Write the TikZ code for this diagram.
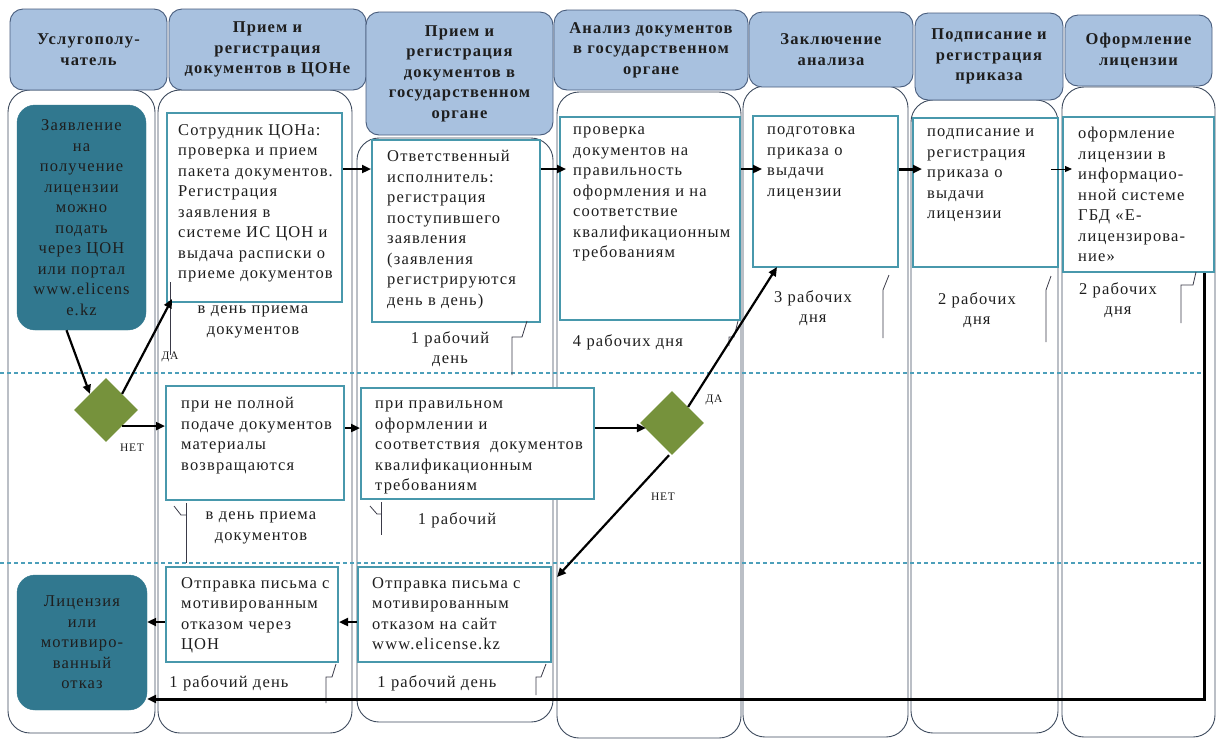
\documentclass[tikz,border=0pt]{standalone}
\usepackage{fontspec}
\setmainfont{Liberation Serif}[LetterSpace=7]
\usetikzlibrary{shapes.geometric,arrows.meta,fit}
\definecolor{hdrfill}{HTML}{A8C1DF}
\definecolor{hdrdraw}{HTML}{485C7C}
\definecolor{lanedraw}{HTML}{3E4B5E}
\definecolor{tealfill}{HTML}{31788F}
\definecolor{boxdraw}{HTML}{4898AC}
\definecolor{olivefill}{HTML}{76923C}
\definecolor{sepcol}{HTML}{4C9FBA}
\definecolor{calldraw}{HTML}{3A3A48}
\definecolor{ink}{HTML}{1E1E1E}
\newcommand\bodyfnt{\fontsize{16.5}{20.5}\selectfont}
\newcommand\hdrfnt{\fontsize{16.5}{20.5}\selectfont\bfseries}
\newcommand\ynfnt{\fontsize{11.5}{13}\selectfont}
\begin{document}
\begin{tikzpicture}[x=1pt,y=-1pt,
  lanebox/.style={draw=lanedraw, line width=0.9pt, fill=white, rounded corners=22pt, inner sep=0pt},
  hdr/.style={draw=hdrdraw, line width=0.9pt, fill=hdrfill, rounded corners=13pt, inner sep=0pt,
              font=\hdrfnt, align=center, text=ink},
  stepbox/.style={draw=boxdraw, line width=2pt, fill=white, inner sep=0pt},
  tealbox/.style={fill=tealfill, draw=tealfill, rounded corners=18pt, inner sep=0pt,
              font=\bodyfnt, align=center, text=ink},
  btext/.style={font=\bodyfnt, align=left, inner sep=0pt, anchor=north west, text=ink},
  ctext/.style={font=\bodyfnt, align=center, inner sep=0pt, text=ink},
  dec/.style={diamond, fill=olivefill, minimum width=64pt, minimum height=64pt, inner sep=0pt, aspect=1},
  conn/.style={line width=2.2pt, draw=black, -{Triangle[length=9pt,width=8pt]}},
  thinconn/.style={line width=1pt, draw=black, -{Triangle[length=7pt,width=6pt]}},
  callout/.style={draw=calldraw, line width=0.8pt},
  sepline/.style={draw=sepcol, line width=1.1pt, dash pattern=on 4pt off 3pt},
  yn/.style={font=\ynfnt, inner sep=0pt, text=ink}
]
\useasboundingbox (0,0) rectangle (1217,740);

% lanes
\node[lanebox, fit={(8,90) (155,733)}] (L1) {};
\node[lanebox, fit={(158,90) (352,733)}] (L2) {};
\node[lanebox, fit={(357,138) (553,722)}] (L3) {};
\node[lanebox, fit={(557,92) (741,738)}] (L4) {};
\node[lanebox, fit={(743,86) (908,737)}] (L5) {};
\node[lanebox, fit={(911,100) (1058,733)}] (L6) {};
\node[lanebox, fit={(1062,87) (1215,737)}] (L7) {};

% separators
\coordinate (s1a) at (0,373); \coordinate (s1b) at (1203,373);
\coordinate (s2a) at (0,563); \coordinate (s2b) at (1203,563);
\draw[sepline] (s1a) -- (s1b);
\draw[sepline] (s2a) -- (s2b);

% headers
\node[hdr, minimum width=157pt, minimum height=81pt] (H1) at (88.5,49.5) {Услугополу-\\чатель};
\node[hdr, minimum width=197pt, minimum height=81pt] (H2) at (267.5,49.5) {Прием и\\регистрация\\документов в ЦОНе};
\node[hdr, minimum width=187pt, minimum height=123pt] (H3) at (459.5,73.5) {Прием и\\регистрация\\документов в\\государственном\\органе};
\node[hdr, minimum width=194pt, minimum height=80pt] (H4) at (651,50) {Анализ документов\\в государственном\\органе};
\node[hdr, minimum width=164pt, minimum height=75pt] (H5) at (831,49.5) {Заключение\\анализа};
\node[hdr, minimum width=148pt, minimum height=87pt] (H6) at (989,56.5) {Подписание и\\регистрация\\приказа};
\node[hdr, minimum width=147pt, minimum height=71pt] (H7) at (1138.5,50.5) {Оформление\\лицензии};

% start / end boxes
\node[tealbox, minimum width=129pt, minimum height=225pt] (Bs) at (81.5,217.5)
  {Заявление\\на\\получение\\лицензии\\можно\\подать\\через ЦОН\\или портал\\www.elicens\\e.kz};
\node[tealbox, minimum width=130pt, minimum height=135pt] (Be) at (82,642.5)
  {Лицензия\\или\\мотивиро-\\ванный\\отказ};

% step boxes
\node[stepbox, fit={(167,113) (342,302)}] (B1) {};
\node[stepbox, fit={(372,140) (540,322)}] (B2) {};
\node[stepbox, fit={(560,117) (740,320)}] (B3) {};
\node[stepbox, fit={(753,116) (898,267)}] (B4) {};
\node[stepbox, fit={(913,118) (1058,267)}] (B5) {};
\node[stepbox, fit={(1063,117) (1214,272)}] (B6) {};
\node[stepbox, fit={(166,386) (344,500)}] (B7) {};
\node[stepbox, fit={(361,388) (594,499)}] (B8) {};
\node[stepbox, fit={(166,567) (338,662)}] (B9) {};
\node[stepbox, fit={(358,567) (551,662)}] (B10) {};

\node[btext] (B1t) at (178,124) {Сотрудник ЦОНа:\\проверка и прием\\пакета документов.\\Регистрация\\заявления в\\системе ИС ЦОН и\\выдача расписки о\\приеме документов};
\node[btext] (B2t) at (387,150) {Ответственный\\исполнитель:\\регистрация\\поступившего\\заявления\\(заявления\\регистрируются\\день в день)};
\node[btext] (B3t) at (573,127) {проверка\\документов на\\правильность\\оформления и на\\соответствие\\квалификационным\\требованиям};
\node[btext] (B4t) at (767,127) {подготовка\\приказа о\\выдачи\\лицензии};
\node[btext] (B5t) at (927,129) {подписание и\\регистрация\\приказа о\\выдачи\\лицензии};
\node[btext] (B6t) at (1078,127) {оформление\\лицензии в\\информацио-\\нной системе\\ГБД «Е-\\лицензирова-\\ние»};
\node[btext] (B7t) at (181,397) {при не полной\\подаче документов\\материалы\\возвращаются};
\node[btext] (B8t) at (375,401) {при правильном\\оформлении и\\соответствия~ документов\\квалификационным\\требованиям};
\node[btext] (B9t) at (181,577) {Отправка письма с\\мотивированным\\отказом через\\ЦОН};
\node[btext] (B10t) at (372,577) {Отправка письма с\\мотивированным\\отказом на сайт\\www.elicense.kz};

% decisions
\node[dec] (D1) at (106,410) {};
\node[dec] (D2) at (672,423) {};

% duration labels
\node[ctext] (T1) at (253,322) {в день приема\\документов};
\node[ctext] (T2) at (450,349) {1 рабочий\\день};
\node[ctext] (T3) at (628,342) {4 рабочих дня};
\node[ctext] (T4) at (813,308) {3 рабочих\\дня};
\node[ctext] (T5) at (977,310) {2 рабочих\\дня};
\node[ctext] (T6) at (1118,300) {2 рабочих\\дня};
\node[ctext] (T7) at (261,528) {в день приема\\документов};
\node[ctext] (T8) at (457,520) {1 рабочий};
\node[ctext] (T9) at (229,683) {1 рабочий день};
\node[ctext] (T10) at (437,683) {1 рабочий день};

% yes/no
\node[yn] (y1) at (170,357) {ДА};
\node[yn] (y2) at (714,400) {ДА};
\node[yn] (n1) at (132,448) {НЕТ};
\node[yn] (n2) at (663,497) {НЕТ};

% callout leaders
\draw[callout] (170,355) -- (170,282);
\draw[callout] (512,375) -- (512,337) -- (522,337) -- (527,321);
\draw[callout] (729,346) -- (729,337) -- (734,337) -- (738,321);
\draw[callout] (883,338) -- (883,290) -- (889,275);
\draw[callout] (1046,342) -- (1046,290) -- (1051,276);
\draw[callout] (1181,323) -- (1181,285) -- (1193,285) -- (1196,272);
\draw[callout] (174,506) -- (181,515) -- (186,515);
\draw[callout] (186,503) -- (186,563);
\draw[callout] (370,506) -- (377,514) -- (381,514);
\draw[callout] (381,502) -- (381,535);
\draw[callout] (326,703) -- (326,677) -- (332,677) -- (336,664);
\draw[callout] (536,695) -- (536,677) -- (541,677) -- (546,664);

% connectors
\coordinate (row1) at (0,169);
\coordinate (row2) at (0,428);
\coordinate (row3) at (0,622);
\coordinate (row4) at (0,699);

\draw[conn] (B1.east |- row1) -- (B2.west |- row1);
\draw[conn, shorten >=-7pt] (B2.east |- row1) -- (B3.west |- row1);
\draw[conn, shorten >=-10pt] (B3.east |- row1) -- (B4.west |- row1);
\draw[conn, line width=3pt, shorten >=-10pt] (B4.east |- row1) -- (B5.west |- row1);
\draw[thinconn, shorten <=-8pt, shorten >=-10pt] (B5.east |- row1) -- (B6.west |- row1);

\draw[conn] ([xshift=-15pt]Bs.south) -- (D1.north west);
\draw[conn] (D1.north east) -- ([xshift=6pt,yshift=4pt]B1.south west);
\draw[conn] (D1.south east) -- (D1.south east -| B7.west);
\draw[conn] (B7.east |- row2) -- (B8.west |- row2);
\draw[conn, shorten >=-6pt] (B8.east |- row2) -- (D2.west |- row2);
\draw[conn] (D2.north east) -- ([xshift=25pt,yshift=1pt]B4.south west);
\draw[conn] ([xshift=-3pt]D2.south) -- ([xshift=5pt,yshift=-11pt]B10.north east);
\draw[conn] (B10.west |- row3) -- (B9.east |- row3);
\draw[conn] (B9.west |- row3) -- (Be.east |- row3);
\coordinate (rtop) at ([xshift=66pt]B6.south);
\draw[conn, line width=3pt] (rtop) -- (rtop |- row4) -- (Be.east |- row4);
\end{tikzpicture}
\end{document}
